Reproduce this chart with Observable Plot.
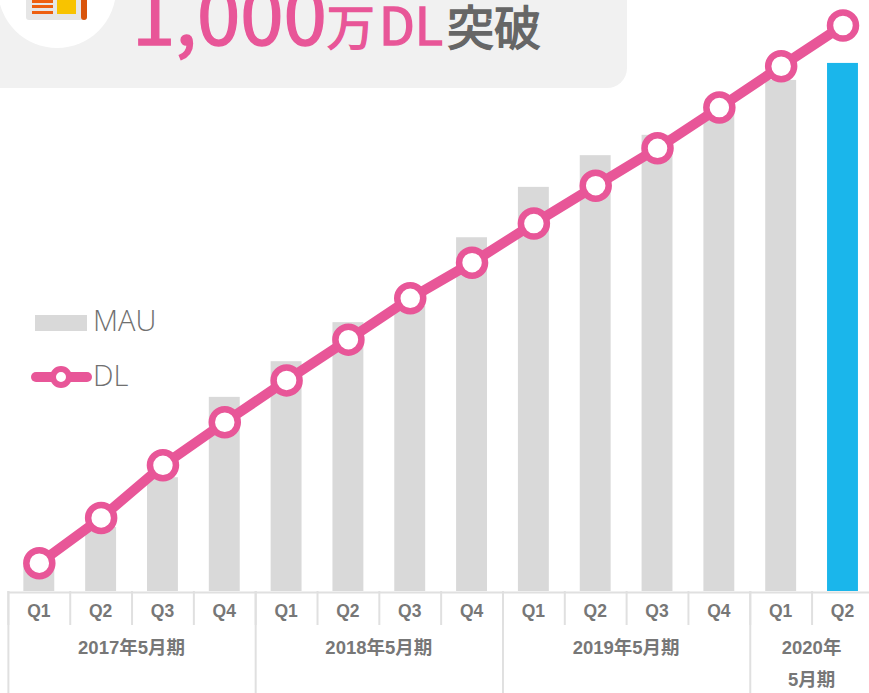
<!DOCTYPE html>
<html lang="ja"><head><meta charset="utf-8">
<script src="https://cdn.jsdelivr.net/npm/d3@7"></script>
<script src="https://cdn.jsdelivr.net/npm/@observablehq/plot@0.6"></script>
<style>
html,body{margin:0;padding:0;background:#fff;width:869px;height:693px;overflow:hidden}
#wrap{position:relative;width:869px;height:693px;overflow:hidden}
#card{position:absolute;left:-20px;top:-20px;width:647px;height:108px;background:#f1f1f1;border-bottom-right-radius:20px}
#circle{position:absolute;left:-2px;top:-70px;width:118px;height:118px;border-radius:50%;background:#fff}
.ic{position:absolute}
#headline{position:absolute;left:132px;top:-41px;height:86px;display:flex;align-items:baseline;white-space:nowrap;font-family:"Noto Sans CJK JP","Noto Sans";font-weight:400;color:#e85698;line-height:104px;-webkit-text-stroke:1.4px currentColor}
#chart{position:absolute;left:0;top:0}
.lg{position:absolute;font-family:"Open Sans";font-weight:300;font-size:29px;color:#707070;line-height:34px;left:93px}
</style></head><body>
<div id="wrap">
<div id="card"></div>
<div id="circle"></div>
<div class="ic" style="left:26px;top:-20px;width:61px;height:40px;background:#e6e6e6;border-radius:3px"></div>
<div class="ic" style="left:32px;top:-1px;width:21px;height:4px;background:#ee5f0f"></div>
<div class="ic" style="left:32px;top:5px;width:21px;height:3px;background:#ee5f0f"></div>
<div class="ic" style="left:32px;top:11px;width:21px;height:3px;background:#ee5f0f"></div>
<div class="ic" style="left:57px;top:-5px;width:19px;height:19px;background:#f8c300"></div>
<div class="ic" style="left:81px;top:-5px;width:6px;height:25px;background:#d9540b;border-radius:0 0 3px 3px"></div>
<div id="headline"><span style="font-size:78px">1,000</span><span style="font-size:48px">万</span><span style="font-size:52px;margin-left:4px">DL</span><span style="font-size:47px;color:#666;margin-left:4px;-webkit-text-stroke:1.4px #666">突破</span></div>
<div id="chart"></div>
<div class="lg" style="top:303px">MAU</div>
<div class="lg" style="top:358px">DL</div>
<div class="ic" style="left:35px;top:315px;width:52px;height:16px;background:#d9d9d9"></div>
<div class="ic" style="left:31px;top:372px;width:61px;height:10px;border-radius:5px;background:#e85698"></div>
<div class="ic" style="left:50px;top:366px;width:10px;height:10px;border-radius:50%;background:#fff;border:6px solid #e85698"></div>
</div>
<script>
const quarters = ["Q1","Q2","Q3","Q4","Q1","Q2","Q3","Q4","Q1","Q2","Q3","Q4","Q1","Q2"];
const mauValues = [44,113,201,343,406,475,504,625,714,770,806,846,903,933];
const dlValues = [50,130,223,299,373,445,518,581,650,717,783,855,928,1000];
const fiscalYears = ["2017年5月期","2018年5月期","2019年5月期","2020年\n5月期"];
const fiscalCenters = [2,6,10,13];
const yearBoundaries = [0,4,8,12];
const idx = d3.range(quarters.length);
const PINK = "#e85698", GRAY = "#d9d9d9", BLUE = "#1ab6eb", LINE = "#e0e0e0", TEXT = "#777";
const font = '"Liberation Sans","Noto Sans CJK JP",sans-serif';
const chart = Plot.plot({
  width: 869, height: 693,
  marginTop: 25, marginBottom: 102, marginLeft: 0, marginRight: 0,
  style: {background: "transparent", fontFamily: font},
  x: {type: "linear", domain: [0, quarters.length], range: [7.9, 873.4], axis: null},
  y: {domain: [0, 1000], axis: null},
  marks: [
    Plot.rectY(idx, {x1: i => i + 0.25, x2: i => i + 0.75, y1: 0, y2: i => mauValues[i],
      fill: i => i === quarters.length - 1 ? BLUE : GRAY, inset: 0}),
    Plot.axisX({ticks: d3.range(quarters.length + 1), tickSize: 34, tickFormat: () => "", stroke: LINE, strokeWidth: 2, strokeOpacity: 1}),
    Plot.axisX({ticks: yearBoundaries, tickSize: 102, tickFormat: () => "", stroke: LINE, strokeWidth: 2, strokeOpacity: 1}),
    Plot.ruleY([0], {x1: 0, x2: quarters.length, stroke: LINE, strokeWidth: 2, dy: 1}),
    Plot.axisX({ticks: idx.map(i => i + 0.5), tickSize: 0, tickPadding: 13, dx: -0.5, tickFormat: v => quarters[Math.floor(v)],
      fill: TEXT, fontSize: 17.5, fontWeight: 700, lineAnchor: "top"}),
    Plot.text(fiscalYears, {x: (d, i) => fiscalCenters[i], y: () => 0, text: d => d, dy: 40, dx: -0.5, lineAnchor: "top",
      lineHeight: 1.73, fill: TEXT, fontSize: 18.5, fontWeight: 700}),
    Plot.line(idx, {x: i => i + 0.5, y: i => dlValues[i], stroke: PINK, strokeWidth: 10, curve: "linear"}),
    Plot.dot(idx, {x: i => i + 0.5, y: i => dlValues[i], r: 13, fill: "#fff", stroke: PINK, strokeWidth: 6.5})
  ]
});
document.getElementById("chart").append(chart);
</script>
</body></html>
